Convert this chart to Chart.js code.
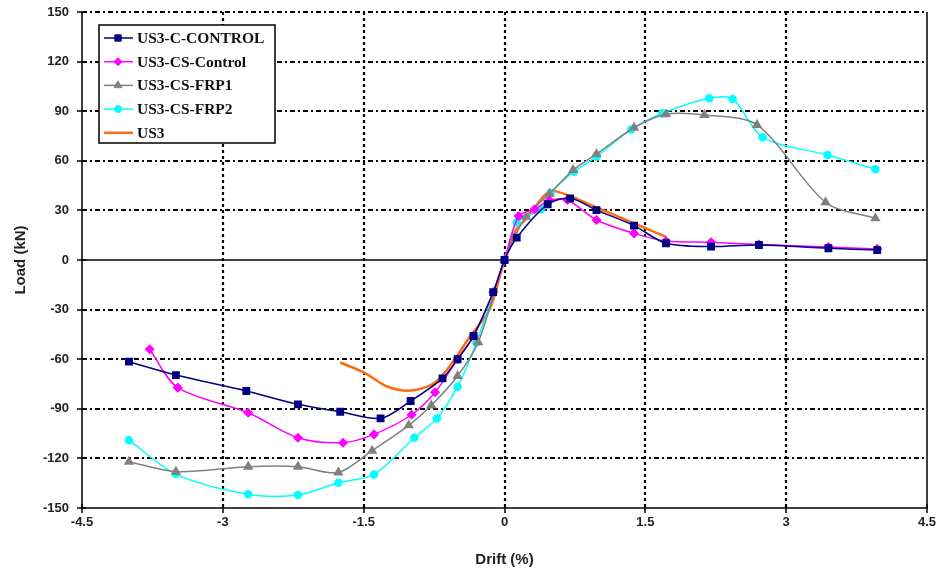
<!DOCTYPE html>
<html>
<head>
<meta charset="utf-8">
<script src="https://cdn.jsdelivr.net/npm/chart.js@4.4.1/dist/chart.umd.min.js"></script>
<style>
  html, body { margin: 0; padding: 0; background: #fff; }
  #wrap { width: 937px; height: 573px; }
</style>
</head>
<body>
<div id="wrap"><canvas id="chart" width="937" height="573"></canvas></div>
<script>
// Drift (%) and load (kN) for each specimen
const driftCC = [-4, -3.5, -2.75, -2.2, -1.75, -1.32, -1.0, -0.66, -0.5, -0.33, -0.12, 0, 0.13, 0.46, 0.7, 0.98, 1.38, 1.72, 2.2, 2.71, 3.45, 3.97];
const loadCC  = [-61.5, -69.6, -79.2, -87.3, -91.8, -95.8, -85.3, -71.6, -60, -46, -19.4, 0, 13.5, 33.7, 37.3, 30.2, 20.8, 10.1, 8.1, 9.1, 7.1, 6];

const driftCS = [-3.78, -3.48, -2.73, -2.2, -1.72, -1.39, -0.99, -0.74, -0.5, -0.33, -0.12, 0, 0.15, 0.32, 0.48, 0.67, 0.98, 1.38, 1.72, 2.2, 2.71, 3.45, 3.97];
const loadCS  = [-54, -77.2, -92.4, -107.5, -110.5, -105.5, -93.6, -80, -60, -46, -19.4, 0, 26.6, 30.7, 36, 36.3, 24.2, 16.1, 11.5, 10.7, 9.3, 7.9, 6.7];

const driftF1 = [-4, -3.5, -2.73, -2.2, -1.77, -1.41, -1.02, -0.78, -0.5, -0.28, 0, 0.23, 0.48, 0.73, 0.98, 1.38, 1.72, 2.13, 2.69, 3.42, 3.95];
const loadF1  = [-122, -128, -125, -125, -128.5, -115.3, -100, -88, -70.2, -49.8, 0, 26.2, 40, 54.4, 64.1, 80, 88.1, 87.7, 81.7, 34.9, 25.2];

const driftF2 = [-4, -3.5, -2.73, -2.2, -1.77, -1.39, -0.96, -0.72, -0.5, -0.3, 0, 0.13, 0.39, 0.49, 0.74, 0.98, 1.35, 1.68, 2.18, 2.43, 2.75, 3.44, 3.95];
const loadF2  = [-109, -129.5, -141.7, -142.2, -134.7, -129.7, -107.5, -95.8, -76.6, -50, 0, 22.8, 30.7, 40.7, 53.4, 62.5, 79, 88.7, 97.8, 97.4, 74.2, 63.5, 54.9];

const driftUS3 = [-1.75, -1.5, -1.25, -1.0, -0.75, -0.56, -0.37, -0.16, 0, 0.12, 0.25, 0.48, 0.71, 0.96, 1.38, 1.72];
const loadUS3  = [-62, -68, -76.5, -79, -74.5, -62.5, -46.4, -30, 0, 18, 26, 41.5, 38.3, 32.3, 22.2, 14];

const seriesNames = ['US3-C-CONTROL', 'US3-CS-Control', 'US3-CS-FRP1', 'US3-CS-FRP2', 'US3'];
const xTicks = [-4.5, -3, -1.5, 0, 1.5, 3, 4.5];
const yTicks = [-150, -120, -90, -60, -30, 0, 30, 60, 90, 120, 150];

function pts(xs, ys) {
    return xs.map((x, i) => ({ x: x, y: ys[i] }));
}

// grilles pointillées + bordures + petites graduations
const frame = {
    id: 'frame',
    beforeDatasetsDraw(chart) {
        const ctx = chart.ctx;
        const a = chart.chartArea;
        const xs = chart.scales.x, ys = chart.scales.y;
        ctx.save();
        ctx.strokeStyle = '#000';
        // horizontal grid
        ctx.lineWidth = 2.2;
        ctx.setLineDash([5, 3, 2, 3]);
        yTicks.forEach(v => {
            if (v === 0 || v === -150) return;
            const y = Math.round(ys.getPixelForValue(v));
            ctx.beginPath(); ctx.moveTo(a.left, y); ctx.lineTo(a.right, y); ctx.stroke();
        });
        // vertical grid
        ctx.setLineDash([3, 3]);
        xTicks.forEach(v => {
            if (v === -4.5 || v === 4.5) return;
            const x = Math.round(xs.getPixelForValue(v));
            ctx.beginPath(); ctx.moveTo(x, a.top); ctx.lineTo(x, a.bottom); ctx.stroke();
        });
        // zero line
        ctx.setLineDash([]);
        ctx.lineWidth = 1.5;
        const y0 = Math.round(ys.getPixelForValue(0));
        ctx.beginPath(); ctx.moveTo(a.left, y0); ctx.lineTo(a.right, y0); ctx.stroke();
        // borders
        ctx.beginPath();
        ctx.moveTo(a.left, a.top); ctx.lineTo(a.left, a.bottom); ctx.lineTo(a.right, a.bottom); ctx.lineTo(a.right, a.top);
        ctx.stroke();
        // ticks
        yTicks.forEach(v => {
            const y = Math.round(ys.getPixelForValue(v));
            ctx.beginPath(); ctx.moveTo(a.left - 5, y); ctx.lineTo(a.left + 4, y); ctx.stroke();
        });
        xTicks.forEach(v => {
            const x = Math.round(xs.getPixelForValue(v));
            ctx.beginPath(); ctx.moveTo(x, a.bottom - 4); ctx.lineTo(x, a.bottom + 5); ctx.stroke();
        });
        ctx.restore();
    }
};

// légende dans un cadre, en haut à gauche
const boxLegend = {
    id: 'boxLegend',
    afterDraw(chart) {
        const ctx = chart.ctx;
        ctx.save();
        ctx.setLineDash([]);
        ctx.fillStyle = '#fff';
        ctx.fillRect(99, 25, 176, 118);
        ctx.strokeStyle = '#000';
        ctx.lineWidth = 1.5;
        ctx.strokeRect(99, 25, 176, 118);
        chart.data.datasets.forEach((ds, i) => {
            const y = 38 + i * 23.7;
            ctx.strokeStyle = ds.borderColor;
            ctx.lineWidth = ds.borderWidth;
            ctx.beginPath(); ctx.moveTo(104, y); ctx.lineTo(133, y); ctx.stroke();
            if (ds.pointRadius > 0) {
                ctx.fillStyle = ds.pointBackgroundColor;
                ctx.strokeStyle = ds.pointBorderColor;
                ctx.lineWidth = 1;
                Chart.helpers.drawPoint(ctx, { pointStyle: ds.pointStyle, radius: ds.pointRadius, rotation: 0, borderWidth: 1 }, 118, y);
            }
            ctx.fillStyle = '#111';
            ctx.font = 'bold 15.5px "Liberation Serif", "DejaVu Serif", serif';
            ctx.textBaseline = 'middle';
            ctx.fillText(ds.label, 137, y + 1);
        });
        ctx.restore();
    }
};

const ctx = document.getElementById('chart').getContext('2d');
new Chart(ctx, {
    type: 'line',
    data: {
        datasets: [
            {
                label: seriesNames[0], data: pts(driftCC, loadCC),
                borderColor: '#000080', borderWidth: 1.5,
                pointStyle: 'rect', pointRadius: 4.5,
                pointBackgroundColor: '#000080', pointBorderColor: '#000080'
            },
            {
                label: seriesNames[1], data: pts(driftCS, loadCS),
                borderColor: '#ff00ff', borderWidth: 1.5,
                pointStyle: 'rectRot', pointRadius: 4,
                pointBackgroundColor: '#ff00ff', pointBorderColor: '#ff00ff'
            },
            {
                label: seriesNames[2], data: pts(driftF1, loadF1),
                borderColor: '#808080', borderWidth: 1.5,
                pointStyle: 'triangle', pointRadius: 4.5,
                pointBackgroundColor: '#808080', pointBorderColor: '#808080'
            },
            {
                label: seriesNames[3], data: pts(driftF2, loadF2),
                borderColor: '#00ffff', borderWidth: 1.5,
                pointStyle: 'circle', pointRadius: 3.5,
                pointBackgroundColor: '#00ffff', pointBorderColor: '#00ffff'
            },
            {
                label: seriesNames[4], data: pts(driftUS3, loadUS3),
                borderColor: '#ff6a10', borderWidth: 2.5,
                pointRadius: 0
            }
        ]
    },
    options: {
        responsive: false,
        animation: false,
        events: [],
        layout: { padding: { top: 12, right: 10, left: 0, bottom: 0 } },
        elements: { line: { tension: 0.3, fill: false } },
        plugins: {
            legend: { display: false },
            tooltip: { enabled: false }
        },
        scales: {
            x: {
                type: 'linear', min: -4.5, max: 4.5,
                afterBuildTicks: (s) => { s.ticks = xTicks.map(v => ({ value: v })); },
                afterFit: (s) => { s.height = 65; s.paddingLeft = 0; s.paddingRight = 0; },
                grid: { display: false, drawTicks: false },
                border: { display: false },
                ticks: {
                    padding: 7, color: '#222',
                    font: { family: '"Liberation Sans Narrow", "Liberation Sans", Arial', size: 13, weight: 'bold' },
                    callback: (v) => String(v)
                },
                title: {
                    display: true, text: 'Drift (%)', color: '#222', padding: { top: 10 },
                    font: { family: '"Liberation Sans Narrow", "Liberation Sans", Arial', size: 15, weight: 'bold' }
                }
            },
            y: {
                type: 'linear', min: -150, max: 150,
                afterBuildTicks: (s) => { s.ticks = yTicks.map(v => ({ value: v })); },
                afterFit: (s) => { s.width = 82; s.paddingTop = 0; s.paddingBottom = 0; },
                grid: { display: false, drawTicks: false },
                border: { display: false },
                ticks: {
                    padding: 13, color: '#222',
                    font: { family: '"Liberation Sans", Arial', size: 13, weight: 'bold' }
                },
                title: {
                    display: true, text: 'Load (kN)', color: '#222', padding: { top: 12, bottom: 4 },
                    font: { family: '"Liberation Sans", Arial', size: 15, weight: 'bold' }
                }
            }
        }
    },
    plugins: [frame, boxLegend]
});
</script>
</body>
</html>
